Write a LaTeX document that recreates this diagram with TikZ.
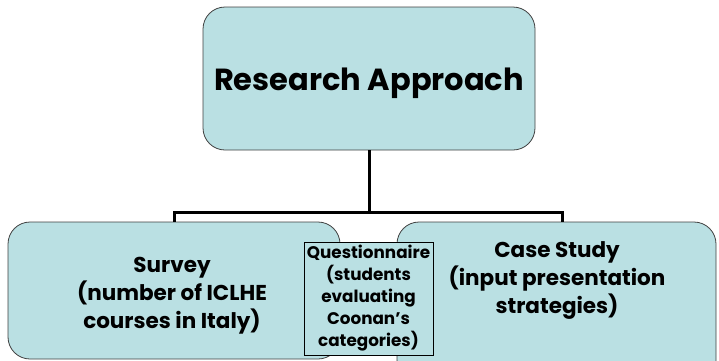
\documentclass[tikz,border=0pt]{standalone}
\usepackage{fontspec}
\setmainfont{Poppins}
\usepackage{xcolor}
\usepackage{tikz}

\definecolor{boxblue}{RGB}{186,224,227}

\begin{document}
\begin{tikzpicture}[x=1pt, y=-1pt,
    box/.style={draw=black!75, fill=boxblue, rounded corners=22pt, line width=0.8pt},
    boxtext/.style={align=center, font=\fontsize{21.5}{28}\selectfont\bfseries},
    link/.style={line width=3pt}]
  \clip (0,0) rectangle (719,360);

  % boxes
  \node[box, minimum width=332pt, minimum height=143pt, text height=33pt,
        font=\fontsize{30.5}{34}\selectfont\bfseries] (approach) at (369,78.5) {Research Approach};
  \node[box, minimum width=332pt, minimum height=137pt] (survey) at (174,290.5) {};
  \node[box, minimum width=319pt, minimum height=160pt] (casestudy) at (556.5,302) {};
  \node[boxtext] (surveytext) at (172,296) {Survey\\(number of ICLHE\\courses in Italy)};
  \node[boxtext] (casetext) at (557,280) {Case Study\\(input presentation\\strategies)};
  \node[draw, rectangle, fill=boxblue, line width=0.6pt, inner sep=0pt,
        minimum width=129pt, minimum height=113pt, align=center,
        font=\fontsize{16.8}{22}\selectfont\bfseries] (questionnaire) at (368.5,298.5)
        {Questionnaire\\(students\\evaluating\\Coonan’s\\categories)};

  % connectors
  \coordinate (fork) at (369,212);
  \draw[link] (approach.south) -- (fork);
  \draw[link] (survey.north) |- (fork) -| ([xshift=5.5pt]casestudy.north);
\end{tikzpicture}
\end{document}
